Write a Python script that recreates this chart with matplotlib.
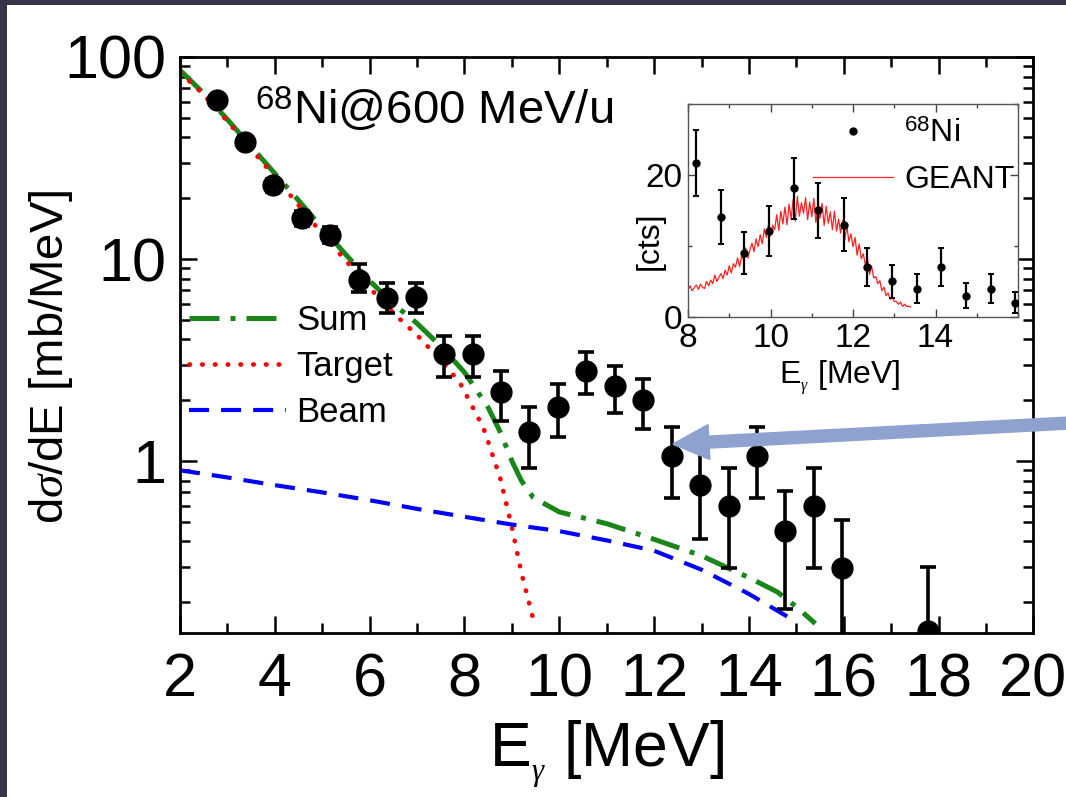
"""68Ni @ 600 MeV/u gamma spectrum with GEANT inset."""

import numpy as np
import matplotlib
matplotlib.use('Agg')
import matplotlib.pyplot as plt
from matplotlib.lines import Line2D
from matplotlib.patches import FancyArrow, Rectangle
from matplotlib.ticker import MultipleLocator, LogLocator, NullFormatter

plt.rcParams['font.family'] = ['Liberation Sans', 'DejaVu Sans']
plt.rcParams['mathtext.fontset'] = 'custom'
plt.rcParams['mathtext.rm'] = 'Liberation Sans'
plt.rcParams['mathtext.it'] = 'Liberation Serif:italic'

# measured cross section (mb/MeV) with upper / lower error bounds
e_gamma = [2.77, 3.37, 3.97, 4.57, 5.17, 5.77, 6.37, 6.97, 7.57, 8.17, 8.77, 9.37,
           9.97, 10.57, 11.17, 11.77, 12.37, 12.97, 13.57, 14.17, 14.77, 15.37,
           15.97, 17.77]
dsig = [61, 38, 23.2, 15.9, 13.2, 7.9, 6.4, 6.5, 3.4, 3.4, 2.2, 1.4,
        1.86, 2.8, 2.35, 2.0, 1.06, 0.76, 0.60, 1.06, 0.45, 0.60,
        0.295, 0.145]
dsig_hi = [64, 40.5, 25, 17.2, 14.4, 9.4, 7.6, 7.6, 4.15, 4.15, 2.8, 1.85,
           2.42, 3.48, 2.96, 2.56, 1.48, 1.16, 0.92, 1.48, 0.71, 0.92,
           0.51, 0.30]
dsig_lo = [58, 35.5, 21.4, 14.6, 12.0, 6.9, 5.4, 5.4, 2.62, 2.62, 1.58, 0.92,
           1.31, 2.16, 1.73, 1.44, 0.66, 0.41, 0.295, 0.66, 0.185, 0.295,
           0.03, 0.03]

# model curves
sum_e = [2.0, 2.5, 3.0, 3.5, 4.0, 4.5, 5.0, 5.5, 6.0, 6.5, 7.0, 7.5, 8.0, 8.5,
         8.75, 9.0, 9.2, 9.45, 10.0, 11.0, 12.0, 13.0, 14.0, 14.6, 15.0, 15.4]
sum_y = [86, 66, 49, 36, 26.5, 19.5, 14.2, 10.5, 7.8, 6.0, 4.8, 3.7, 2.75, 1.84,
         1.4, 1.0, 0.8, 0.66, 0.56, 0.49, 0.41, 0.34, 0.265, 0.225, 0.19, 0.157]
target_e = [2.0, 2.5, 3.0, 3.5, 4.0, 4.5, 5.0, 5.5, 6.0, 6.5, 7.0, 7.5, 7.9,
            8.4, 8.75, 9.0, 9.2, 9.45]
target_y = [84, 65, 48, 35, 25.5, 18.5, 13.3, 9.8, 7.2, 5.4, 4.2, 3.15, 2.45,
            1.46, 0.83, 0.47, 0.28, 0.165]
beam_e = [2, 3, 4, 5, 6, 7, 8, 9, 10, 11, 12, 13, 14, 15]
beam_y = [0.90, 0.83, 0.76, 0.70, 0.64, 0.58, 0.53, 0.485, 0.45, 0.405, 0.36,
          0.29, 0.22, 0.16]

# inset: counts and GEANT response
ins_e = [8.19, 8.79, 9.36, 9.97, 10.57, 11.16, 11.77, 12.35, 12.94, 13.55,
         14.14, 14.73, 15.34, 15.92]
ins_cts = [21.7, 14.1, 9.0, 12.1, 18.1, 15.0, 13.0, 7.0, 5.0, 4.0, 7.0, 3.0,
           4.0, 2.0]
ins_err = [4.6, 3.8, 3.0, 3.5, 4.3, 3.9, 3.7, 2.7, 2.3, 2.1, 2.7, 1.8, 2.1, 1.5]
geant_cts = [3.8, 4.4, 3.7, 4.1, 4.5, 3.9, 4.6, 4.2, 4.0, 5.0,
             4.4, 5.2, 4.7, 5.9, 5.0, 5.6, 6.1, 5.4, 6.6, 5.9,
             7.2, 6.2, 7.5, 7.0, 8.3, 7.1, 8.6, 8.0, 9.7, 8.3,
             9.4, 10.4, 9.2, 11.0, 9.9, 11.6, 10.3, 12.4, 11.2, 13.0,
             11.4, 12.9, 12.3, 14.4, 12.2, 14.9, 13.1, 15.5, 13.0, 15.9,
             13.8, 16.6, 13.5, 17.0, 14.2, 16.1, 14.6, 16.8, 13.7, 16.2,
             14.1, 16.7, 13.3, 15.8, 13.9, 16.0, 12.9, 15.6, 13.2, 14.8,
             12.3, 14.9, 12.1, 13.8, 11.8, 13.6, 10.8, 12.9, 10.6, 11.7,
             9.9, 11.2, 8.7, 10.3, 8.2, 8.9, 7.3, 8.3, 6.0, 7.2,
             5.5, 5.7, 4.7, 5.1, 3.7, 4.2, 3.0, 3.4, 2.5, 2.8,
             2.2, 2.2, 1.8, 2.1, 1.5, 1.8, 1.5, 1.5, 1.4]
geant_e = np.linspace(8.0, 13.4, len(geant_cts))

fig = plt.figure(figsize=(10.66, 7.97), dpi=100, facecolor='#35344a')
fig.add_artist(Rectangle((7 / 1066, 0), 1, 1 - 5 / 797, transform=fig.transFigure,
                         facecolor='white', edgecolor='none', zorder=-5))

ax = fig.add_axes([0.1689, 0.2058, 0.8005, 0.7227])

l_sum, = ax.plot(sum_e, sum_y, color='#1a861a', lw=3.6,
                 linestyle=(0, (6, 2.2, 1.0, 2.2)), label='Sum')
l_tgt, = ax.plot(target_e, target_y, color='#ff0000', lw=3.4,
                 linestyle=(0, (0.1, 2.6)), dash_capstyle='round', label='Target')
l_beam, = ax.plot(beam_e, beam_y, color='#0000ff', lw=3.0,
                  linestyle=(0, (4.8, 2.9)), label='Beam')

yerr = [np.array(dsig) - np.array(dsig_lo), np.array(dsig_hi) - np.array(dsig)]
ax.errorbar(e_gamma, dsig, yerr=yerr, fmt='o', color='black', ms=15,
            elinewidth=2.6, capsize=5.5, capthick=2.6, zorder=5)

ax.set_xlim(2, 20)
ax.set_yscale('log')
ax.set_ylim(0.141, 100)
ax.xaxis.set_major_locator(MultipleLocator(2))
ax.xaxis.set_minor_locator(MultipleLocator(1))
ax.set_yticks([1, 10, 100], labels=['1', '10', '100'])
ax.yaxis.set_minor_locator(LogLocator(base=10, subs=np.arange(2, 10)))
ax.yaxis.set_minor_formatter(NullFormatter())
ax.tick_params(which='both', direction='in', top=True, right=True, width=1.8)
ax.tick_params(which='major', length=12, labelsize=44)
ax.tick_params(which='minor', length=7)
ax.tick_params(axis='x', pad=14)
ax.tick_params(axis='y', pad=10)
for sp in ax.spines.values():
    sp.set_linewidth(2.0)

ax.set_xlabel(r'E$_{_{\gamma}}$ [MeV]', fontsize=45, labelpad=6)
ax.set_ylabel(r'd$\sigma$/dE [mb/MeV]', fontsize=34)
ax.yaxis.set_label_coords(-0.123, 0.48)

fig.text(0.239, 0.844, r'$^{\mathrm{68}}$Ni@600 MeV/u', fontsize=34, va='baseline')

ax.legend(handles=[l_sum, l_tgt, l_beam], loc='upper left',
          bbox_to_anchor=(0.164, 0.636), bbox_transform=fig.transFigure,
          frameon=False, fontsize=25, handlelength=2.8, handletextpad=0.3,
          labelspacing=0.38, borderaxespad=0)

# inset
axi = fig.add_axes([0.6454, 0.6023, 0.3096, 0.2672])
axi.plot(geant_e, geant_cts, color='#ff2020', lw=0.9)
axi.errorbar(ins_e, ins_cts, yerr=ins_err, fmt='o', color='black', ms=5,
             elinewidth=1.6, capsize=2.5, capthick=1.4, zorder=5)
axi.set_xlim(8, 16)
axi.set_ylim(0, 30)
axi.xaxis.set_major_locator(MultipleLocator(2))
axi.xaxis.set_minor_locator(MultipleLocator(1))
axi.set_xticks([8, 10, 12, 14])
axi.yaxis.set_major_locator(MultipleLocator(20))
axi.yaxis.set_minor_locator(MultipleLocator(10))
axi.tick_params(which='both', direction='in', top=True, right=True, width=1.0,
                color='#444444', labelsize=24, pad=4)
axi.tick_params(which='major', length=6)
axi.tick_params(which='minor', length=3)
for sp in axi.spines.values():
    sp.set_linewidth(1.0)
    sp.set_color('#555555')
axi.set_xlabel(r'E$_{_{\gamma}}$ [MeV]', fontsize=23, labelpad=2)
axi.xaxis.set_label_coords(0.46, -0.195)
axi.set_ylabel('[cts]', fontsize=23)
axi.yaxis.set_label_coords(-0.07, 0.357)

h_ni = Line2D([], [], marker='o', color='black', ms=5, linestyle='none')
h_geant = Line2D([], [], color='#ff2020', lw=0.9)
axi.legend(handles=[h_ni, h_geant], labels=[r'$^{\mathrm{68}}$Ni', 'GEANT'],
           loc='upper left', bbox_to_anchor=(0.751, 0.867),
           bbox_transform=fig.transFigure, frameon=False, fontsize=23,
           handlelength=2.5, handletextpad=0.35, labelspacing=0.5,
           borderaxespad=0)

# pointer arrow
fig.add_artist(FancyArrow(10.70, 3.74, -3.97, -0.21, width=0.12, head_width=0.35,
                          head_length=0.36, length_includes_head=True,
                          color='#8ea1cf', transform=fig.dpi_scale_trans,
                          zorder=10))

fig.savefig('out.png', dpi=100, facecolor=fig.get_facecolor())
